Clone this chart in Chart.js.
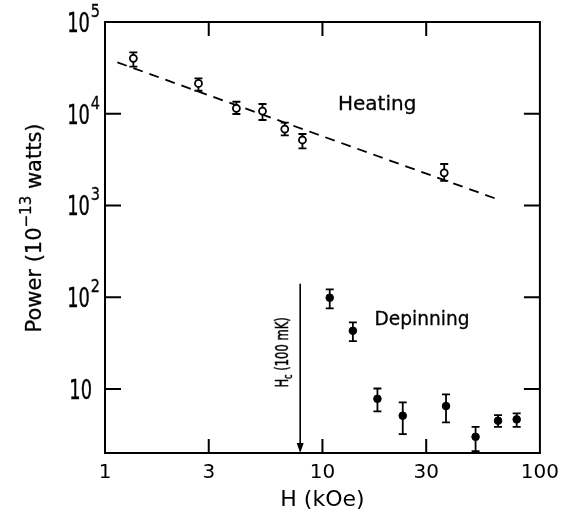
<!DOCTYPE html>
<html>
<head>
<meta charset="utf-8">
<script src="https://cdn.jsdelivr.net/npm/chart.js@4/dist/chart.umd.min.js"></script>
<style>
  html, body { margin: 0; padding: 0; background: #fff; }
</style>
</head>
<body>
<canvas id="chart" width="567" height="524"></canvas>
<script>
// ====================
// Data
// ====================

// heating (open circles)
const heatField = [1.35, 2.69, 4.02, 5.30, 6.71, 8.09, 36.3];
const heatPower = [40200, 21400, 11450, 10700, 6810, 5170, 2270];
const heatHigh = [46700, 24300, 13500, 12760, 7980, 6010, 2830];
const heatLow = [32600, 17800, 9930, 8540, 5810, 4190, 1850];

// depinning (filled circles)
const depinField = [10.8, 13.8, 17.9, 23.4, 37.0, 50.6, 64.2, 78.2];
const depinPower = [98.6, 43.0, 7.8, 5.1, 6.5, 3.0, 4.5, 4.65];
const depinHigh = [121.6, 53.1, 10.1, 7.13, 8.71, 3.86, 5.18, 5.40];
const depinLow = [75.5, 33.2, 5.69, 3.21, 4.31, 2.10, 3.86, 3.86];

// dashed fit through heating data
const fitField = [1.14, 65];
const fitPower = [36300, 1150];

const xTicks = [1, 3, 10, 30, 100];
const xTickLabels = ["1", "3", "10", "30", "100"];
const yTicks = [10, 100, 1000, 10000, 100000];
const yTickExp = ["", "2", "3", "4", "5"];

// critical field marker
const hcField = 7.9;
const hcTop = 140;

const FONT = "DejaVu Sans";

const toPoints = (xs, ys) => xs.map((v, i) => ({ x: v, y: ys[i] }));

// text made of runs: [text, font, baseline shift], centred, squeezed by sx
function drawRuns(ctx, runs, cx, cy, rot, sx, bold) {
  ctx.save();
  ctx.translate(cx, cy);
  if (rot) ctx.rotate(rot);
  ctx.scale(sx || 1, 1);
  ctx.textAlign = "left";
  ctx.textBaseline = "middle";
  ctx.lineWidth = bold || 0;
  let total = 0;
  runs.forEach((r) => {
    ctx.font = r[1];
    total += ctx.measureText(r[0]).width;
  });
  let px = -total / 2;
  runs.forEach((r) => {
    ctx.font = r[1];
    ctx.fillText(r[0], px, r[2]);
    if (bold) ctx.strokeText(r[0], px, r[2]);
    px += ctx.measureText(r[0]).width;
  });
  ctx.restore();
}

// right-aligned squeezed text, returns its drawn width
function drawRight(ctx, text, font, right, base, sx, bold) {
  ctx.save();
  ctx.font = font;
  ctx.textAlign = "right";
  ctx.textBaseline = "alphabetic";
  ctx.translate(right, base);
  ctx.scale(sx, 1);
  ctx.fillText(text, 0, 0);
  if (bold) {
    ctx.lineWidth = bold;
    ctx.strokeText(text, 0, 0);
  }
  const w = ctx.measureText(text).width * sx;
  ctx.restore();
  return w;
}

// ====================
// Plugin: frame, inner ticks, error bars, labels
// ====================

const extras = {
  id: "extras",

  beforeDatasetsDraw(chart) {
    const { ctx, scales: { x, y } } = chart;
    ctx.save();
    ctx.strokeStyle = "#000";
    ctx.lineWidth = 1.8;
    chart.data.datasets.forEach((ds) => {
      if (!ds.errLow) return;
      ds.data.forEach((p, i) => {
        const px = x.getPixelForValue(p.x);
        const top = y.getPixelForValue(ds.errHigh[i]);
        const bot = y.getPixelForValue(ds.errLow[i]);
        ctx.beginPath();
        ctx.moveTo(px, top);
        ctx.lineTo(px, bot);
        ctx.moveTo(px - 4, top);
        ctx.lineTo(px + 4, top);
        ctx.moveTo(px - 4, bot);
        ctx.lineTo(px + 4, bot);
        ctx.stroke();
      });
    });
    ctx.restore();
  },

  afterDraw(chart) {
    const { ctx, chartArea: a, scales: { x, y } } = chart;
    ctx.save();
    ctx.strokeStyle = "#000";
    ctx.fillStyle = "#000";

    // frame
    ctx.lineWidth = 2;
    ctx.strokeRect(a.left, a.top, a.right - a.left, a.bottom - a.top);

    // inner ticks
    ctx.beginPath();
    xTicks.slice(1, -1).forEach((v) => {
      const px = x.getPixelForValue(v);
      ctx.moveTo(px, a.bottom);
      ctx.lineTo(px, a.bottom - 14);
      ctx.moveTo(px, a.top);
      ctx.lineTo(px, a.top + 14);
    });
    yTicks.slice(0, -1).forEach((v) => {
      const py = y.getPixelForValue(v);
      ctx.moveTo(a.left, py);
      ctx.lineTo(a.left + 16, py);
      ctx.moveTo(a.right, py);
      ctx.lineTo(a.right - 16, py);
    });
    ctx.stroke();

    // y tick labels with exponents
    yTicks.forEach((v, i) => {
      const py = y.getPixelForValue(v);
      const exp = yTickExp[i];
      let right = a.left - 13;
      if (exp) {
        const we = drawRight(ctx, exp, "17px " + FONT, a.left - 5, py - 5, 0.85, 0.3);
        right = a.left - 5 - we - 1;
      }
      drawRight(ctx, "10", "27px " + FONT, right, py + 10, 0.66, 0.4);
    });

    // y title
    drawRuns(ctx, [
      ["Power (10", "21px " + FONT, 0],
      ["−13", "15px " + FONT, -9],
      [" watts)", "21px " + FONT, 0],
    ], 36, 228, -Math.PI / 2, 1, 0.3);

    // Hc arrow
    const hx = x.getPixelForValue(hcField);
    ctx.lineWidth = 1.6;
    ctx.beginPath();
    ctx.moveTo(hx, y.getPixelForValue(hcTop));
    ctx.lineTo(hx, a.bottom - 8);
    ctx.stroke();
    ctx.beginPath();
    ctx.moveTo(hx - 3.5, a.bottom - 10);
    ctx.lineTo(hx + 3.5, a.bottom - 10);
    ctx.lineTo(hx, a.bottom);
    ctx.closePath();
    ctx.fill();

    // Hc label (rotated)
    drawRuns(ctx, [
      ["H", "17px " + FONT, 0],
      ["c", "12px " + FONT, 5],
      [" (100 mK)", "17px " + FONT, 0],
    ], x.getPixelForValue(6.66), y.getPixelForValue(25), -Math.PI / 2, 0.68, 0.5);

    // series labels
    drawRuns(ctx, [["Heating", "20px " + FONT, 0]],
      x.getPixelForValue(17.85), y.getPixelForValue(12400), 0, 1, 0.3);
    drawRuns(ctx, [["Depinning", "20px " + FONT, 0]],
      x.getPixelForValue(28.7), y.getPixelForValue(56), 0, 0.93, 0.3);

    ctx.restore();
  },
};

// ====================
// Chart
// ====================

new Chart(document.getElementById("chart"), {
  type: "scatter",

  data: {
    datasets: [
      {
        label: "Heating",
        data: toPoints(heatField, heatPower),
        errHigh: heatHigh,
        errLow: heatLow,
        pointStyle: "circle",
        pointRadius: 3.5,
        pointBorderWidth: 1.8,
        pointBorderColor: "#000",
        pointBackgroundColor: "#fff",
      },
      {
        label: "Depinning",
        data: toPoints(depinField, depinPower),
        errHigh: depinHigh,
        errLow: depinLow,
        pointStyle: "circle",
        pointRadius: 3.8,
        pointBorderWidth: 1,
        pointBorderColor: "#000",
        pointBackgroundColor: "#000",
      },
      {
        type: "line",
        label: "Fit",
        data: toPoints(fitField, fitPower),
        borderColor: "#000",
        borderWidth: 1.8,
        borderDash: [10, 7],
        pointRadius: 0,
        fill: false,
      },
    ],
  },

  options: {
    responsive: false,
    animation: false,
    devicePixelRatio: 1,

    layout: {
      padding: { top: 22, right: 25, left: 0, bottom: 0 },
    },

    plugins: {
      legend: { display: false },
      tooltip: { enabled: false },
    },

    scales: {
      x: {
        type: "logarithmic",
        position: "bottom",
        min: 1,
        max: 100,
        afterBuildTicks: (s) => {
          s.ticks = xTicks.map((v) => ({ value: v }));
        },
        afterFit: (s) => {
          s.height = 71;
        },
        ticks: {
          callback: (v) => xTickLabels[xTicks.indexOf(v)],
          color: "#000",
          font: { family: FONT, size: 20 },
          padding: 8,
          maxRotation: 0,
          autoSkip: false,
        },
        grid: { display: false, drawTicks: false },
        border: { display: false },
        title: {
          display: true,
          text: "H (kOe)",
          color: "#000",
          font: { family: FONT, size: 22 },
          padding: { top: 0, bottom: 11 },
        },
      },
      y: {
        type: "logarithmic",
        position: "left",
        min: 2,
        max: 100000,
        afterBuildTicks: (s) => {
          s.ticks = yTicks.map((v) => ({ value: v }));
        },
        afterFit: (s) => {
          s.width = 105;
        },
        ticks: { display: false },
        grid: { display: false, drawTicks: false },
        border: { display: false },
      },
    },
  },

  plugins: [extras],
});
</script>
</body>
</html>
